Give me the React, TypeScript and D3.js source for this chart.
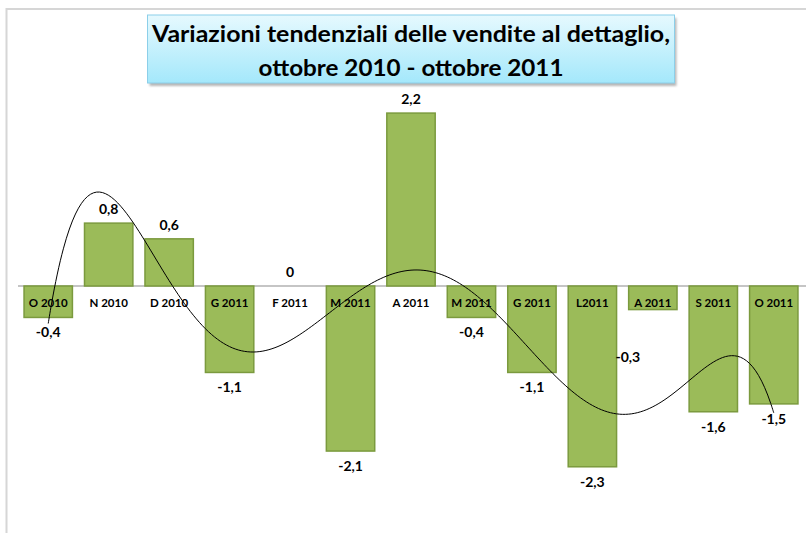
import React from 'react';
import * as d3 from 'd3';

const categories = ['O 2010', 'N 2010', 'D 2010', 'G 2011', 'F 2011', 'M 2011', 'A 2011', 'M 2011', 'G 2011', 'L2011', 'A 2011', 'S 2011', 'O 2011'];
const values = [-0.4, 0.8, 0.6, -1.1, 0, -2.1, 2.2, -0.4, -1.1, -2.3, -0.3, -1.6, -1.5];
const valueLabels = ['-0,4', '0,8', '0,6', '-1,1', '0', '-2,1', '2,2', '-0,4', '-1,1', '-2,3', '-0,3', '-1,6', '-1,5'];
const titleLines = ['Variazioni tendenziali delle vendite al dettaglio,', 'ottobre 2010 - ottobre 2011'];
const trendOrder = 6;

const width = 806;
const height = 533;
const font = "Lato, 'Open Sans', sans-serif";

// least squares polynomial (like the Excel trendline), x = 1..n
function polyFit(ys: number[], order: number) {
  const n = ys.length;
  const mid = (n + 1) / 2, half = (n - 1) / 2;
  const m = order + 1;
  const A: number[][] = Array.from({ length: m }, () => new Array(m + 1).fill(0));
  ys.forEach((yv, i) => {
    const t = (i + 1 - mid) / half;
    for (let r = 0; r < m; r++) {
      for (let c = 0; c < m; c++) A[r][c] += Math.pow(t, r + c);
      A[r][m] += Math.pow(t, r) * yv;
    }
  });
  for (let k = 0; k < m; k++) {
    let p = k;
    for (let r = k + 1; r < m; r++) if (Math.abs(A[r][k]) > Math.abs(A[p][k])) p = r;
    [A[k], A[p]] = [A[p], A[k]];
    for (let r = 0; r < m; r++) {
      if (r === k) continue;
      const f = A[r][k] / A[k][k];
      for (let c = k; c <= m; c++) A[r][c] -= f * A[k][c];
    }
  }
  const coef = A.map((row, k) => row[m] / row[k]);
  return (x: number) => {
    const t = (x - mid) / half;
    return coef.reduce((s, c, k) => s + c * Math.pow(t, k), 0);
  };
}

export default function App() {
  const x = d3.scaleBand<number>()
    .domain(d3.range(categories.length))
    .range([18, 804])
    .paddingInner(0.2)
    .paddingOuter(0.1);

  const y = d3.scaleLinear().domain([-2.5, 2.5]).range([482.5, 89.5]);

  const trend = polyFit(values, trendOrder);
  const cx = (i: number) => (x(i) as number) + x.bandwidth() / 2;
  const xs = d3.range(1, categories.length + 0.001, 0.05);
  const line = d3.line<number>()
    .x(t => cx(0) + (t - 1) * x.step())
    .y(t => y(trend(t)))
    .curve(d3.curveCatmullRom);

  const boxX = 147.5, boxY = 15, boxW = 527, boxH = 68;

  return (
    <div style={{ position: 'absolute', left: 0, top: 0 }}>
      <svg width={width} height={height} style={{ display: 'block' }}>
        <defs>
          <linearGradient id="titleGrad" x1="0" y1="0" x2="0" y2="1">
            <stop offset="0" stopColor="#e6f9fe" />
            <stop offset="1" stopColor="#a4e8fb" />
          </linearGradient>
          <filter id="blur1" x="-5%" y="-20%" width="110%" height="140%">
            <feGaussianBlur stdDeviation="1.2" />
          </filter>
        </defs>
        <rect width={width} height={height} fill="#ffffff" />
        <path d={`M6.5,${height} V9 H${width}`} fill="none" stroke="#d6d6d6" strokeWidth={2} />

        {/* title box */}
        <rect x={boxX + 2} y={boxY + 3} width={boxW} height={boxH} fill="#9a9a9a" opacity={0.7} filter="url(#blur1)" />
        <rect x={boxX} y={boxY} width={boxW} height={boxH} fill="url(#titleGrad)" stroke="#8ccfe9" strokeWidth={1} />
        <text x={boxX + boxW / 2} y={42} textAnchor="middle" fontFamily={font} fontWeight="bold" fontSize={23}
          textLength={518} lengthAdjust="spacingAndGlyphs" fill="#000">{titleLines[0]}</text>
        <text x={boxX + boxW / 2} y={76} textAnchor="middle" fontFamily={font} fontWeight="bold" fontSize={23}
          textLength={305} lengthAdjust="spacingAndGlyphs" fill="#000">{titleLines[1]}</text>

        {/* zero line */}
        <line x1={18} x2={width} y1={y(0)} y2={y(0)} stroke="#8c8c8c" strokeWidth={1.2} />

        {/* bars */}
        {values.map((v, i) => (
          v === 0 ? null :
            <rect key={'b' + i} x={x(i)} y={Math.min(y(v), y(0))} width={x.bandwidth()}
              height={Math.abs(y(v) - y(0))} fill="#9bbb59" stroke="#7b9a3e" strokeWidth={1.5} />
        ))}

        {/* category labels */}
        {categories.map((c, i) => (
          <text key={'c' + i} x={cx(i)} y={y(0) + 21} textAnchor="middle" fontFamily={font}
            fontWeight="bold" fontSize={11.5} fill="#000">{c}</text>
        ))}

        {/* trend line */}
        <path d={line(xs) || ''} fill="none" stroke="#000" strokeWidth={1} />

        {/* value labels */}
        {values.map((v, i) => {
          const shifted = i === 10;
          const ty = v >= 0 ? y(v) - 9 : y(v) + 20 + (shifted ? 32 : 0);
          return (
            <text key={'v' + i} x={cx(i) + (shifted ? -25 : 0)} y={ty} textAnchor="middle" fontFamily={font}
              fontWeight="bold" fontSize={14} fill="#000">{valueLabels[i]}</text>
          );
        })}
      </svg>
    </div>
  );
}
